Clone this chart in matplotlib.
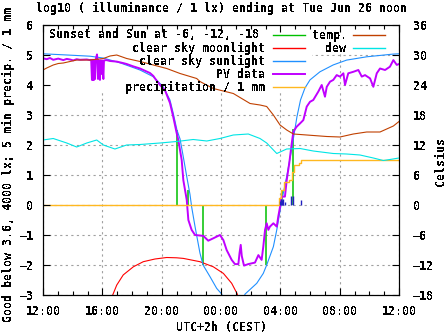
import numpy as np
import matplotlib
matplotlib.use('Agg')
import matplotlib.pyplot as plt
from matplotlib.patches import Rectangle
from matplotlib.lines import Line2D
from matplotlib.ticker import MultipleLocator

# hours after Mon 12:00 (CEST)
tick_hours = [0, 4, 8, 12, 16, 20, 24]
tick_labels = ['12:00', '16:00', '20:00', '00:00', '04:00', '08:00', '12:00']

# clear sky sunlight, log10 lx
sun_t = [0, 1.62, 3.17, 4.05, 5.19, 6.54, 7.42, 8.09, 8.56, 8.78, 9.03, 9.24, 9.46,
         9.69, 9.91, 10.02, 10.25, 10.58, 10.79, 11.26, 11.71, 12.05, 12.3,
         13.4, 13.62, 14.41, 14.85, 15.08, 15.53, 15.76, 15.98, 16.11, 16.45,
         16.79, 17.12, 17.36, 17.66, 18.0, 18.67, 19.57, 20.47, 21.82, 23.6, 24]
sun_v = [5.04, 5.0, 4.96, 4.9, 4.74, 4.5, 4.28, 3.95, 3.5, 3.06, 2.5, 2.2, 1.6,
         0.95, 0.35, -0.06, -0.72, -1.6, -2.0, -2.39, -2.78, -2.97, -3.3,
         -3.3, -2.97, -2.61, -2.28, -2.0, -1.39, -0.83, -0.2, 0.17, 1.0,
         1.94, 2.94, 3.5, 3.9, 4.17, 4.44, 4.67, 4.83, 4.94, 5.03, 5.04]

# clear sky moonlight
moon_t = [4.6, 4.7, 4.97, 5.41, 6.09, 6.76, 7.55, 8.34, 9.01, 9.46, 10.58, 11.48,
          12.16, 12.72, 13.1, 13.2]
moon_v = [-3.3, -3.0, -2.67, -2.33, -2.06, -1.89, -1.8, -1.75, -1.76, -1.78, -1.89,
          -2.06, -2.28, -2.61, -2.97, -3.3]

# PV data
pv_t = [0, 0.25, 0.47, 0.69, 1.03, 1.37, 1.6, 1.82, 2.04, 2.27, 2.49, 2.95, 3.17,
        3.25, 3.3, 3.33, 3.37, 3.4, 3.44, 3.47, 3.51, 3.55, 3.64, 3.67, 3.71, 3.75,
        3.84, 3.88, 3.94, 3.98, 4.07, 4.11, 4.29, 4.52, 4.97, 5.41, 5.64, 6.09,
        6.54, 7.21, 7.44, 7.55, 7.89, 8.22, 8.56, 8.78, 9.01, 9.12, 9.35, 9.46,
        9.69, 9.8, 10.02, 10.25, 10.81, 11.14, 11.48, 11.93, 12.16, 12.38, 12.72,
        12.94, 13.17, 13.25, 13.33, 13.4, 13.55, 13.84, 14.29, 14.52, 14.74, 14.85,
        14.97, 15.08, 15.19, 15.3, 15.53, 15.76, 15.86, 15.98, 16.09, 16.31, 16.43,
        16.6, 16.77, 16.88, 17.1, 17.33, 17.55, 17.78, 18.0, 18.22, 18.56, 18.79,
        19.01, 19.13, 19.35, 19.57, 19.8, 20.02, 20.25, 20.36, 20.58, 20.92, 21.26,
        21.49, 21.71, 22.05, 22.27, 22.5, 22.72, 23.06, 23.39, 23.62, 23.85, 24]
pv_v = [4.89, 4.86, 4.9, 4.84, 4.88, 4.83, 4.87, 4.85, 4.82, 4.86, 4.84, 4.85, 4.83,
        4.84, 4.17, 4.84, 4.17, 4.84, 4.17, 4.84, 4.2, 4.84, 5.02, 4.82, 4.2, 4.83,
        4.17, 4.82, 4.37, 4.82, 4.2, 4.82, 4.83, 4.8, 4.78, 4.73, 4.7, 4.62,
        4.55, 4.4, 4.3, 4.22, 4.0, 3.83, 3.4, 2.94, 2.4, 2.17, 1.5, 0.83,
        0.17, -0.5, -0.83, -1.0, -1.03, -1.19, -1.11, -1.0, -1.17, -1.5, -1.83,
        -1.97, -1.97, -1.6, -1.33, -1.7, -2.02, -1.97, -1.92, -1.67, -1.83, -1.39,
        -0.83, -0.61, -0.83, -0.72, -0.61, -0.72, -0.39, -0.06, 0.28, 0.28, 0.83,
        1.39, 2.06, 2.45, 2.61, 2.72, 2.83, 3.28, 3.44, 3.5, 3.78, 4.0,
        3.61, 3.94, 4.11, 4.17, 4.33, 4.28, 4.39, 4.0, 4.39, 4.44, 4.5,
        4.28, 4.33, 4.22, 3.94, 4.39, 4.55, 4.5, 4.61, 4.83, 4.67, 4.7]

# accumulated precipitation, mm
rain_t = [0, 15.89, 16.07, 16.23, 16.56, 16.79, 16.9, 17.24, 17.41, 24]
rain_v = [0, 0.22, 0.5, 0.78, 0.83, 1.11, 1.33, 1.39, 1.5, 1.5]

# 5 min precipitation, mm
rain5_t = [15.98, 16.05, 16.11, 16.2, 16.3, 16.75, 16.83, 17.41]
rain5_v = [0.12, 0.2, 0.18, 0.2, 0.1, 0.3, 0.3, 0.18]

# sunset / sunrise and sun at -6, -12 degrees
twil_t = [9.05, 9.76, 10.81, 15.05, 16.11, 16.83]
twil_v = [2.5, 0.5, -2.0, -2.0, 0.5, 2.55]

# temperature and dew point, Celsius
temp_t = [0, 0.25, 0.47, 0.69, 1.03, 1.37, 1.82, 2.27, 3.17, 4.07, 4.52, 4.97, 5.64,
          6.54, 7.44, 8.34, 9.24, 10.36, 10.58, 11.48, 12.83, 13.96, 14.63, 15.08,
          15.53, 15.98, 16.43, 16.88, 17.78, 19.13, 20.02, 20.92, 21.82, 22.72,
          23.62, 24]
temp_c = [27.0, 27.4, 27.7, 28.0, 28.3, 28.4, 28.7, 29.0, 29.0, 29.3, 29.8, 30.0, 29.3,
          28.7, 28.0, 27.3, 26.3, 25.3, 24.7, 23.3, 22.3, 20.3, 20.0, 19.7,
          18.0, 16.0, 15.0, 14.2, 14.0, 13.7, 13.6, 14.2, 14.6, 14.6,
          15.8, 16.7]
dew_t = [0, 0.69, 1.6, 2.27, 2.95, 3.62, 4.07, 4.85, 5.64, 6.54, 7.89, 9.01, 10.13,
         11.04, 11.93, 12.83, 13.84, 14.63, 15.08, 15.76, 16.43, 17.33, 18.22,
         19.57, 20.47, 21.37, 22.27, 22.94, 23.39, 24]
dew_c = [13.0, 13.3, 12.4, 11.6, 12.4, 13.0, 12.0, 11.2, 12.0, 12.1, 12.4, 12.7, 13.1,
         12.8, 13.3, 14.0, 14.2, 13.3, 12.4, 10.3, 11.2, 11.3, 10.8,
         10.3, 10.2, 10.0, 9.4, 8.9, 9.1, 9.4]

plt.rcParams['font.family'] = ['DejaVu Sans Mono']
plt.rcParams['font.weight'] = 'bold'
plt.rcParams['font.size'] = 8.4
plt.rcParams['text.antialiased'] = False

c_green = '#00c000'
c_red = '#ff0000'
c_blue = '#2090ff'
c_pv = '#c000ff'
c_rain = '#ffb820'
c_temp = '#c04000'
c_dew = '#00e5e5'
c_rain5 = '#2020c0'
thin = 0.8
thick = 1.4

W, H = 447, 335
fig = plt.figure(figsize=(W / 100, H / 100), dpi=100)
ax = fig.add_axes([43 / W, 40 / H, 356 / W, 270 / H])
ax.set_xlim(0, 24)
ax.set_ylim(-3, 6)
ax.set_xticks(tick_hours)
ax.set_xticklabels(tick_labels)
ax.xaxis.set_minor_locator(MultipleLocator(1))
ax.set_yticks(range(-3, 7))
ax.set_axisbelow(True)
ax.grid(True, which='major', color='#a0a0a0', linestyle=(0, (2, 3)), linewidth=0.8)
ax.tick_params(which='both', direction='in', length=0, pad=7)
ax.tick_params(axis='x', pad=7)
for s in ax.spines.values():
    s.set_linewidth(0.8)

# white key area hides the grid
for (x0, y0, x1, y1) in [(44, 25, 312, 92), (312, 56, 337, 92), (312, 25, 398, 53)]:
    ax.add_patch(Rectangle((x0 / W, 1 - y1 / H), (x1 - x0) / W, (y1 - y0) / H,
                           transform=fig.transFigure, facecolor='white',
                           edgecolor='none', zorder=1))

ax.vlines(twil_t, 0, twil_v, color=c_green, lw=1.1, zorder=2)
ax.plot(moon_t, moon_v, color=c_red, lw=thin, zorder=2)
ax.plot(sun_t, sun_v, color=c_blue, lw=thin, zorder=2)
ax.plot(pv_t, pv_v, color=c_pv, lw=thick, zorder=2)
ax.step(rain_t, rain_v, where='post', color=c_rain, lw=1.0, zorder=2)
ax.vlines(rain5_t, 0, rain5_v, color=c_rain5, lw=1.0, zorder=2)

ax2 = ax.twinx()
ax2.set_ylim(-18, 36)
ax2.set_yticks(range(-18, 37, 6))
ax2.plot(temp_t, temp_c, color=c_temp, lw=thin)
ax2.plot(dew_t, dew_c, color=c_dew, lw=thin)
ax2.xaxis.set_visible(True)
ax2.tick_params(axis='x', which='both', top=True, bottom=True,
                labeltop=False, labelbottom=False, direction='in')
ax2.tick_params(axis='y', left=True, right=True, labelleft=False, labelright=True,
                direction='in', pad=10)
ax2.tick_params(which='major', length=5, width=0.8)
ax2.tick_params(which='minor', length=3, width=0.8)
for s in ax2.spines.values():
    s.set_linewidth(0.8)

# key
rows = [35, 48, 61, 74, 87]
col1 = [('Sunset and Sun at -6, -12, -18', c_green, 259),
        ('clear sky moonlight', c_red, 265),
        ('clear sky sunlight', c_blue, 265),
        ('PV data', c_pv, 265),
        ('precipitation / 1 mm', c_rain, 265)]
for (label, col, xr), y in zip(col1, rows):
    fig.text(xr / W, 1 - y / H, label, ha='right', va='center')
    fig.add_artist(Line2D([273 / W, 305 / W], [1 - y / H, 1 - y / H], color=col,
                          lw=thick if col == c_pv else 1.0, transform=fig.transFigure))
col2 = [('temp.', c_temp), ('dew', c_dew)]
for (label, col), y in zip(col2, rows):
    fig.text(347 / W, 1 - y / H, label, ha='right', va='center')
    fig.add_artist(Line2D([353 / W, 385 / W], [1 - y / H, 1 - y / H], color=col,
                          lw=1.0, transform=fig.transFigure))

fig.text(221 / W, 1 - 8 / H, 'log10 ( illuminance / 1 lx) ending at Tue Jun 26 noon',
         ha='center', va='center')
fig.text(8 / W, 13 / H, 'Good below 3.6, 4000 lx; 5 min precip. / 1 mm',
         rotation=90, ha='center', va='bottom')
fig.text(441 / W, 1 - 161 / H, 'Celsius', rotation=90, ha='center', va='center')
fig.text(221 / W, 1 - 327 / H, 'UTC+2h (CEST)', ha='center', va='center')

fig.savefig('out.png', dpi=100)
